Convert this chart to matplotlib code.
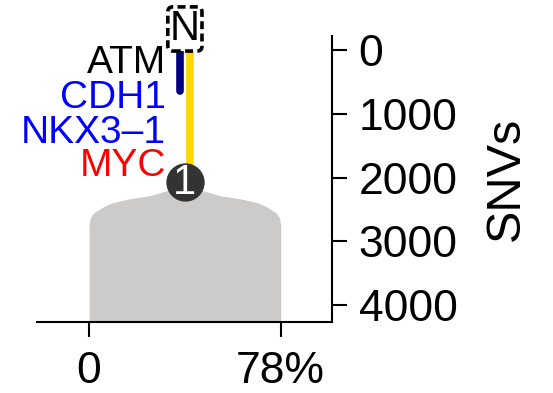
import numpy as np
import matplotlib
matplotlib.use('Agg')
import matplotlib.pyplot as plt

plt.rcParams['font.family'] = ['Liberation Sans', 'DejaVu Sans']

# clone "1" density shape (half width in % around the node, vs SNVs)
shape_snvs = [2133, 2212, 2282, 2337, 2400, 2455, 2549, 2635, 2745, 4270]
shape_halfwidth = [0, 8, 14, 23, 30, 33, 37, 38.5, 39, 39]
ccf = 78
node_snvs = 2070

# branches: (x offset in %, start, end, colour)
branches = [(-1.9, 0, 650, '#000080'), (1.9, 0, node_snvs, '#FFD700')]

genes = ['ATM', 'CDH1', 'NKX3\u20131', 'MYC']
gene_colors = ['black', 'blue', 'blue', 'red']
gene_snvs = [209, 758, 1294, 1820]

yticks = [0, 1000, 2000, 3000, 4000]
xticks = [0, 78]
xticklabels = ['0', '78%']

fig = plt.figure(figsize=(5.53, 3.93), dpi=100)
ax = fig.add_axes([0.0664, 0.180, 0.601 - 0.0664, 0.9084 - 0.180])

mid = ccf / 2
y = np.array(shape_snvs)
hw = np.array(shape_halfwidth)
ax.fill_betweenx(y, mid - hw, mid + hw, color='#cccbca', lw=0, zorder=1)

for dx, y0, y1, col in branches:
    cap = 'round' if col == '#000080' else 'butt'
    ax.plot([mid + dx, mid + dx], [y0, y1], color=col, lw=5.5,
            solid_capstyle=cap, zorder=3, clip_on=False)

ax.scatter([mid], [node_snvs], s=760, color='#333333', zorder=4, lw=0, clip_on=False)
ax.text(mid, node_snvs + 20, '1', color='white', fontsize=30, ha='center', va='center',
        zorder=5, clip_on=False)

ax.text(mid, -330, 'N', fontsize=30, ha='center', va='center', zorder=5, clip_on=False,
        bbox=dict(boxstyle='round,pad=0.05,rounding_size=0.12', fc='white', ec='black',
                  lw=2.6, ls=(0, (2.2, 1.2))))

for g, c, s in zip(genes, gene_colors, gene_snvs):
    ax.text(31.3, s, g, color=c, fontsize=28, ha='right', va='center', clip_on=False)

ax.set_xlim(-21.3, 99)
ax.set_ylim(4270, -220)
ax.set_xticks(xticks)
ax.set_xticklabels(xticklabels)
ax.set_yticks(yticks)
ax.yaxis.tick_right()
ax.yaxis.set_label_position('right')
ax.set_ylabel('SNVs', fontsize=35, labelpad=19)

for side in ['top', 'left']:
    ax.spines[side].set_visible(False)
for side in ['bottom', 'right']:
    ax.spines[side].set_linewidth(1.5)
ax.tick_params(axis='both', labelsize=32, length=11, width=1.5)
ax.tick_params(axis='y', pad=8)
ax.tick_params(axis='x', pad=10)

fig.savefig('out.png', dpi=100)
